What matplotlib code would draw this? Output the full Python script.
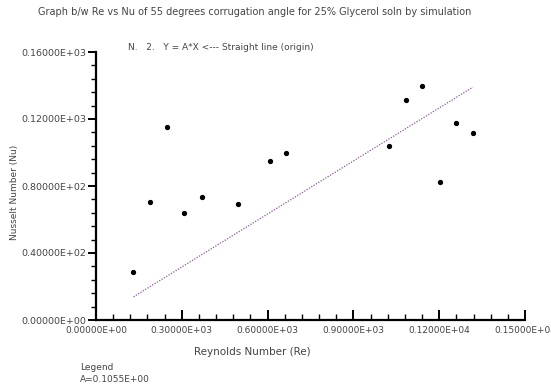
import matplotlib
matplotlib.use("Agg")
import matplotlib.pyplot as plt
import numpy as np
from matplotlib.ticker import MultipleLocator

re_vals = [131, 189, 247, 308, 369, 498, 607, 664, 1023, 1083, 1140, 1202, 1260, 1318]
nu_vals = [28.7, 70.6, 115.4, 63.7, 73.6, 69.3, 94.9, 99.9, 103.9, 131.3, 139.9, 82.2, 117.4, 111.4]
slope_A = 0.1055
x_ticks = [0, 300, 600, 900, 1200, 1500]
x_labels = ["0.00000E+00", "0.30000E+03", "0.60000E+03", "0.90000E+03", "0.12000E+04", "0.15000E+04"]
y_ticks = [0, 40, 80, 120, 160]
y_labels = ["0.00000E+00", "0.40000E+02", "0.80000E+02", "0.12000E+03", "0.16000E+03"]

plt.rcParams['font.family'] = ['DejaVu Sans']
fig = plt.figure(figsize=(5.51, 3.89), dpi=100)
ax = fig.add_axes([96/551, 1-320/389, (525-96)/551, (320-52)/389])

ax.plot(re_vals, nu_vals, 'o', color='black', markersize=2.8, zorder=3)
xl = np.array([min(re_vals), max(re_vals)])
ax.plot(xl, slope_A * xl, color='#8a5a96', linestyle=(0, (1, 1.2)), linewidth=0.9)

ax.set_xlim(0, 1500)
ax.set_ylim(0, 160)
ax.set_xticks(x_ticks)
ax.set_xticklabels(x_labels)
ax.set_yticks(y_ticks)
ax.set_yticklabels(y_labels)
ax.xaxis.set_minor_locator(MultipleLocator(60))
ax.yaxis.set_minor_locator(MultipleLocator(8))
for s in ['top', 'right']:
    ax.spines[s].set_visible(False)
for s in ['left', 'bottom']:
    ax.spines[s].set_linewidth(1.6)
ax.tick_params(axis='x', which='major', direction='in', length=7, width=1.4, labelsize=6.5, pad=4, colors='black', labelcolor='#444444')
ax.tick_params(axis='x', which='minor', direction='in', length=4, width=1.0)
ax.tick_params(axis='y', which='major', direction='out', length=6, width=1.4, labelsize=6.8, pad=1, colors='black', labelcolor='#444444')
ax.tick_params(axis='y', which='minor', direction='out', length=3.5, width=1.0)

fig.text(252/551, 1-352/389, "Reynolds Number (Re)", fontsize=7.5, color='#444444', ha='center', va='center')
fig.text(15/551, 1-192/389, "Nusselt Number (Nu)", rotation=90, fontsize=6.5, color='#444444', ha='center', va='center')

fig.text(255/551, 1-12/389, "Graph b/w Re vs Nu of 55 degrees corrugation angle for 25% Glycerol soln by simulation",
         fontsize=7, color='#444444', ha='center', va='center')
fig.text(128/551, 1-47/389, "N.   2.   Y = A*X <--- Straight line (origin)", fontsize=6.5, color='#444444', ha='left', va='center')
fig.text(80/551, 1-367/389, "Legend", fontsize=6.5, color='#444444', ha='left', va='center')
fig.text(80/551, 1-380/389, "A=0.1055E+00", fontsize=6.5, color='#444444', ha='left', va='center')

fig.savefig("out.png", dpi=100)
